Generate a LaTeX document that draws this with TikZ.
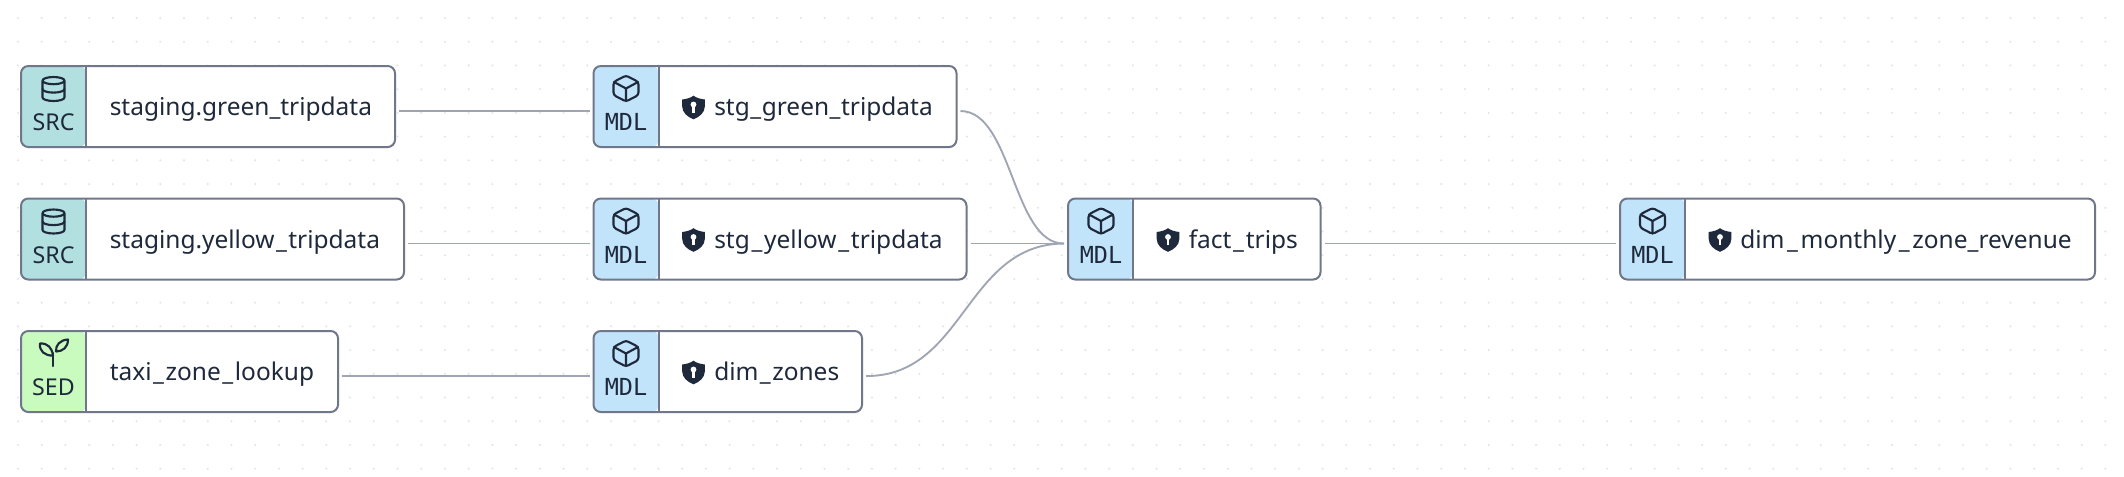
\documentclass[tikz,border=0pt]{standalone}
\usepackage{fontspec}
\setmainfont{Noto Sans}
\newfontfamily\badgefont{DejaVu Sans Mono}
\definecolor{ink}{HTML}{1E293B}
\definecolor{edgeline}{HTML}{70778A}
\definecolor{wire}{HTML}{A0A5B4}
\definecolor{griddot}{HTML}{E2E4E8}
\definecolor{srcfill}{HTML}{B2DFDF}
\definecolor{mdlfill}{HTML}{C2E4FA}
\definecolor{sedfill}{HTML}{C9FBBE}
\newcommand{\us}[1]{\kern#1pt\_\kern#1pt}
\tikzset{
  x=0.75pt,y=-0.75pt,
  card/.style={draw=edgeline,line width=1.5pt,fill=white,rounded corners=5.5pt,inner sep=0pt,outer sep=0pt,anchor=north west},
  wireline/.style={draw=wire,line width=1.4pt},
  iconline/.style={draw=ink,line width=1.6pt,line cap=round,line join=round},
  cardtext/.style={inner sep=0pt,anchor=base west,text=ink,font=\fontsize{18.35pt}{24pt}\selectfont},
  badgetext/.style={inner sep=0pt,anchor=base,text=ink,font=\badgefont\fontsize{17.6pt}{20pt}\selectfont},
  sanslabel/.style={inner sep=0pt,anchor=base,text=ink,font=\fontsize{17.4pt}{20pt}\selectfont},
}
% name, left, top, width, height, fill
\newcommand{\cardbox}[6]{%
  \node[card,minimum width=#4*0.75pt,minimum height=#5*0.75pt,
    path picture={%
      \fill[#6] (path picture bounding box.north west) rectangle ([xshift=48.9pt]path picture bounding box.south west);
      \draw[edgeline,line width=1.5pt] ([xshift=48.9pt]path picture bounding box.north west) -- ([xshift=48.9pt]path picture bounding box.south west);
    }] (#1) at (#2,#3) {};}
\newcommand{\dbicon}[2]{\begin{scope}[shift={(#1,#2)}]
  \draw[iconline] (-11,-8.4) .. controls (-11,-10.4) and (-6,-12) .. (0,-12) .. controls (6,-12) and (11,-10.4) .. (11,-8.4) .. controls (11,-6.4) and (6,-4.8) .. (0,-4.8) .. controls (-6,-4.8) and (-11,-6.4) .. (-11,-8.4) -- (-11,8.4) .. controls (-11,10.4) and (-6,12) .. (0,12) .. controls (6,12) and (11,10.4) .. (11,8.4) -- (11,-8.4);
  \draw[iconline] (-11,0) .. controls (-11,2) and (-6,3.6) .. (0,3.6) .. controls (6,3.6) and (11,2) .. (11,0);
\end{scope}}
\newcommand{\boxicon}[2]{\begin{scope}[shift={(#1,#2)}]
  \draw[iconline,rounded corners=2pt] (0,-13) -- (12.5,-6.5) -- (12.5,6.5) -- (0,13) -- (-12.5,6.5) -- (-12.5,-6.5) -- cycle;
  \draw[iconline] (-12,-6.5) -- (0,0) -- (12,-6.5) (0,0) -- (0,12.5);
\end{scope}}
\newcommand{\sprouticon}[2]{\begin{scope}[shift={(#1,#2)}]
  \draw[iconline] (0.3,14) -- (0.3,1);
  \draw[iconline] (0,3.5) .. controls (-1,-4) and (-5,-9) .. (-13,-8.5) .. controls (-14,-1) and (-8,4) .. (0,3.5);
  \draw[iconline] (3,-0.5) .. controls (2.5,-7) and (7,-12) .. (15,-12.5) .. controls (15,-5) and (10,-0.5) .. (3,-0.5);
\end{scope}}
\newcommand{\shieldicon}[2]{\begin{scope}[shift={(#1,#2)}]
  \fill[ink] (0,-11.8) .. controls (3,-9.5) and (7,-8.5) .. (11.3,-8) -- (11.3,-1) .. controls (11.3,5) and (6,9.5) .. (0,11.8) .. controls (-6,9.5) and (-11.3,5) .. (-11.3,-1) -- (-11.3,-8) .. controls (-7,-8.5) and (-3,-9.5) .. (0,-11.8) -- cycle;
  \fill[white] (0,-3) circle[radius=2.9pt*0.75];
  \fill[white] (-1.4,-3) rectangle (1.4,5);
\end{scope}}
\begin{document}
\begin{tikzpicture}
\useasboundingbox (0,0) rectangle (2124,476);
\fill[white] (0,0) rectangle (2124,476);
\foreach \i in {0,...,88} \foreach \j in {0,...,19}
  \fill[griddot] ({18+23.72*\i},{18+23.72*\j}) circle[radius=0.85pt];

\cardbox{a}{21}{66}{374}{81}{srcfill}
\cardbox{b}{21}{198.5}{383}{81}{srcfill}
\cardbox{c}{21}{331}{317}{81}{sedfill}
\cardbox{d}{593.5}{66}{363}{81}{mdlfill}
\cardbox{e}{593.5}{198.5}{373}{81}{mdlfill}
\cardbox{f}{593.5}{331}{268.5}{81}{mdlfill}
\cardbox{g}{1068}{198.5}{252.5}{81}{mdlfill}
\cardbox{h}{1620}{198.5}{475}{81}{mdlfill}

\dbicon{53.5}{89}
\dbicon{53.5}{221.5}
\sprouticon{53}{352}
\boxicon{626}{88.5}
\boxicon{626}{221}
\boxicon{626}{353.5}
\boxicon{1101}{221}
\boxicon{1652.5}{221}

\node[sanslabel] (al) at (53.5,130.5) {SRC};
\node[sanslabel] (bl) at (53.5,263) {SRC};
\node[sanslabel] (cl) at (53.5,395.5) {SED};
\node[badgetext] (dl) at (626,130.5) {MDL};
\node[badgetext] (el) at (626,263) {MDL};
\node[badgetext] (fl) at (626,395.5) {MDL};
\node[badgetext] (gl) at (1101,263) {MDL};
\node[badgetext] (hl) at (1652.5,263) {MDL};

\node[cardtext] (at) at (109.5,115.5) {staging.green\_tripdata};
\node[cardtext] (bt) at (109.5,248) {staging.yellow\us{1.1}tripdata};
\node[cardtext] (ct) at (109.5,380.5) {taxi\us{1.2}zone\us{1.2}lookup};
\shieldicon{693.5}{107.5}
\node[cardtext] (dt) at (714,115.5) {stg\us{0.4}green\us{0.4}tripdata};
\shieldicon{693.5}{240}
\node[cardtext] (et) at (714,248) {stg\us{1.3}yellow\us{1.3}tripdata};
\shieldicon{693.5}{372.5}
\node[cardtext] (ft) at (714,380.5) {dim\us{1.1}zones};
\shieldicon{1168}{240}
\node[cardtext] (gt) at (1188.5,248) {fact\us{1.3}trips};
\shieldicon{1720}{240}
\node[cardtext] (ht) at (1740,248) {dim\us{2}monthly\us{2}zone\_revenue};

\coordinate (aout) at ([xshift=3pt,yshift=-3.4pt]a.east);
\coordinate (bout) at ([xshift=3pt,yshift=-3.4pt]b.east);
\coordinate (cout) at ([xshift=3pt,yshift=-3.4pt]c.east);
\coordinate (dout) at ([xshift=3pt,yshift=-3.4pt]d.east);
\coordinate (eout) at ([xshift=3pt,yshift=-3.4pt]e.east);
\coordinate (fout) at ([xshift=3pt,yshift=-3.4pt]f.east);
\coordinate (gout) at ([xshift=3pt,yshift=-3.4pt]g.east);
\coordinate (din) at ([xshift=-3pt,yshift=-3.4pt]d.west);
\coordinate (ein) at ([xshift=-3pt,yshift=-3.4pt]e.west);
\coordinate (fin) at ([xshift=-3pt,yshift=-3.4pt]f.west);
\coordinate (gin) at ([xshift=-3pt,yshift=-3.4pt]g.west);
\coordinate (hin) at ([xshift=-3pt,yshift=-3.4pt]h.west);
\draw[wireline] (aout) -- (din);
\draw[wireline] (bout) -- (ein);
\draw[wireline] (cout) -- (fin);
\draw[wireline] (eout) -- (gin);
\draw[wireline] (gout) -- (hin);
\draw[wireline] (dout) .. controls (1012.5,111) and (1012.5,244) .. (gin);
\draw[wireline] (fout) .. controls (965,376.5) and (965,244) .. (gin);
\end{tikzpicture}
\end{document}
